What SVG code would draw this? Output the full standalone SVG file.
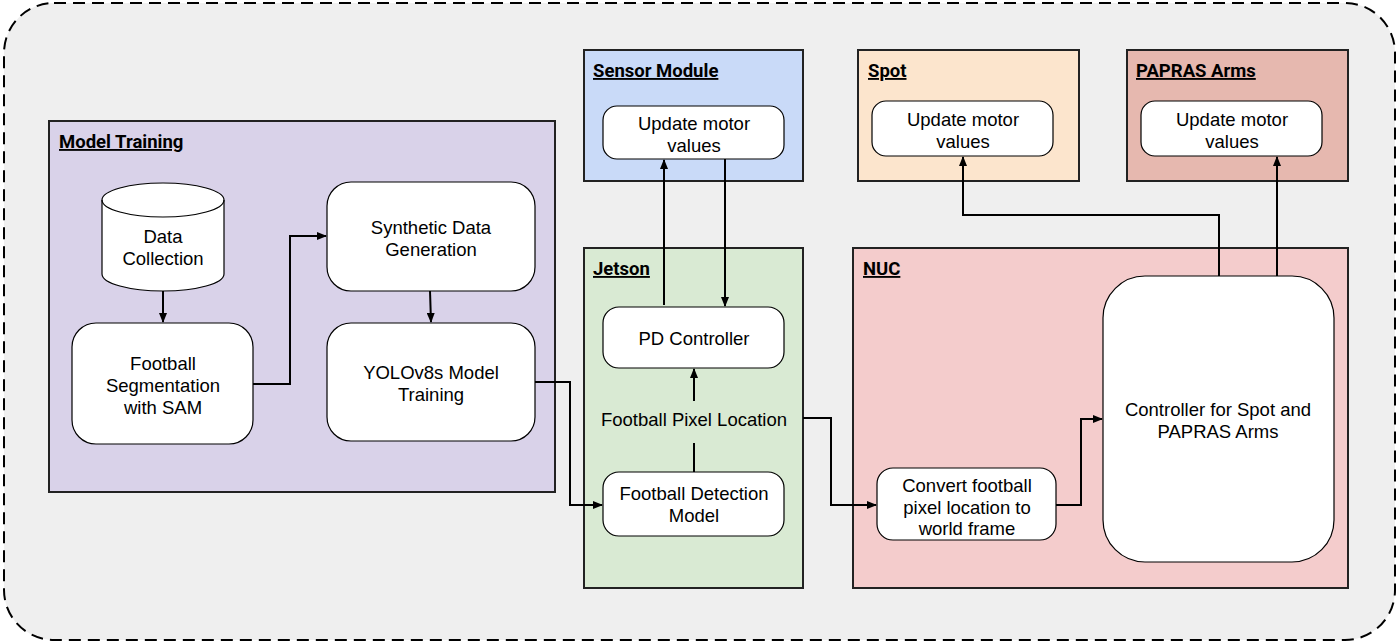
<svg xmlns="http://www.w3.org/2000/svg" width="1398" height="644" viewBox="0 0 1398 644">
<defs>
<marker id="ah" markerWidth="10" markerHeight="8" refX="9" refY="4" orient="auto" markerUnits="userSpaceOnUse">
<path d="M0,0 L10,4 L0,8 Z" fill="#000"/>
</marker>
<style>
.grp{stroke:#222;stroke-width:2}
.node{fill:#fff;stroke:#000;stroke-width:1.2}
.t{font-family:"Liberation Sans",Arial,sans-serif;font-size:18.5px;fill:#000;text-anchor:middle}
.ttl{font-family:Roboto,"Liberation Sans",sans-serif;font-size:18.5px;font-weight:bold;fill:#000;text-decoration:underline}
.c{fill:none;stroke:#000;stroke-width:2}
</style>
</defs>
<rect x="4" y="3" width="1391" height="637" rx="50" fill="#efefef" stroke="#000" stroke-width="2" stroke-dasharray="12,7"/>

<g id="model-training">
<rect class="grp" x="49" y="121" width="506" height="371" fill="#d9d2e9"/>
<text class="ttl" x="59" y="148">Model Training</text>
</g>
<g id="sensor-module">
<rect class="grp" x="584" y="50" width="219" height="131" fill="#c9daf8"/>
<text class="ttl" x="593" y="77">Sensor Module</text>
</g>
<g id="jetson">
<rect class="grp" x="584" y="248" width="219" height="340" fill="#d9ead3"/>
<text class="ttl" x="593" y="275">Jetson</text>
</g>
<g id="spot">
<rect class="grp" x="858" y="50" width="221" height="131" fill="#fce5cd"/>
<text class="ttl" x="868" y="77">Spot</text>
</g>
<g id="papras">
<rect class="grp" x="1127" y="50" width="221" height="131" fill="#e6b8af"/>
<text class="ttl" x="1136" y="77">PAPRAS Arms</text>
</g>
<g id="nuc">
<rect class="grp" x="853" y="248" width="495" height="340" fill="#f4cccc"/>
<text class="ttl" x="863" y="275">NUC</text>
</g>

<g id="data-collection">
<path class="node" d="M102,200 A61,17 0 0 1 224,200 L224,274 A61,17 0 0 1 102,274 Z"/>
<path d="M102,200 A61,17 0 0 0 224,200" fill="none" stroke="#000" stroke-width="1.2"/>
<text class="t" x="163" y="243">Data</text>
<text class="t" x="163" y="265">Collection</text>
</g>
<g id="segmentation">
<rect class="node" x="72" y="323" width="181" height="121" rx="24"/>
<text class="t" x="163" y="370">Football</text>
<text class="t" x="163" y="392">Segmentation</text>
<text class="t" x="163" y="414">with SAM</text>
</g>
<g id="synthetic">
<rect class="node" x="327" y="182" width="208" height="109" rx="24"/>
<text class="t" x="431" y="234">Synthetic Data</text>
<text class="t" x="431" y="256">Generation</text>
</g>
<g id="yolo">
<rect class="node" x="327" y="323" width="208" height="118" rx="24"/>
<text class="t" x="431" y="379">YOLOv8s Model</text>
<text class="t" x="431" y="401">Training</text>
</g>
<g id="sensor-update">
<rect class="node" x="603" y="106" width="181" height="53" rx="14"/>
<text class="t" x="694" y="130">Update motor</text>
<text class="t" x="694" y="152">values</text>
</g>
<g id="pd-controller">
<rect class="node" x="603" y="307" width="181" height="61" rx="16"/>
<text class="t" x="694" y="345">PD Controller</text>
</g>
<g id="detection">
<rect class="node" x="603" y="472" width="181" height="64" rx="16"/>
<text class="t" x="694" y="500">Football Detection</text>
<text class="t" x="694" y="522">Model</text>
</g>
<g id="spot-update">
<rect class="node" x="872" y="101" width="181" height="55" rx="14"/>
<text class="t" x="963" y="126">Update motor</text>
<text class="t" x="963" y="148">values</text>
</g>
<g id="papras-update">
<rect class="node" x="1141" y="101" width="181" height="55" rx="14"/>
<text class="t" x="1232" y="126">Update motor</text>
<text class="t" x="1232" y="148">values</text>
</g>
<g id="convert">
<rect class="node" x="877" y="468" width="179" height="72" rx="16"/>
<text class="t" x="967" y="492">Convert football</text>
<text class="t" x="967" y="514">pixel location to</text>
<text class="t" x="967" y="535">world frame</text>
</g>
<g id="controller">
<rect class="node" x="1103" y="276" width="231" height="286" rx="42"/>
<text class="t" x="1218" y="416">Controller for Spot and</text>
<text class="t" x="1218" y="438">PAPRAS Arms</text>
</g>

<g id="connectors">
<path class="c" d="M163,291 L163,322" marker-end="url(#ah)"/>
<path class="c" d="M253,384 L290,384 L290,236 L326,236" marker-end="url(#ah)"/>
<path class="c" d="M430,291 L431,322" marker-end="url(#ah)"/>
<path class="c" d="M535,382 L570,382 L570,505 L602,505" marker-end="url(#ah)"/>
<path class="c" d="M664,305 L664,160" marker-end="url(#ah)"/>
<path class="c" d="M725,159 L725,306" marker-end="url(#ah)"/>
<path class="c" d="M694,472 L694,443"/>
<path class="c" d="M694,401 L694,369" marker-end="url(#ah)"/>
<text class="t" x="694" y="426">Football Pixel Location</text>
<path class="c" d="M803,418 L831,418 L831,505 L876,505" marker-end="url(#ah)"/>
<path class="c" d="M1056,505 L1081,505 L1081,419 L1102,419" marker-end="url(#ah)"/>
<path class="c" d="M1219,276 L1219,215 L963,215 L963,157" marker-end="url(#ah)"/>
<path class="c" d="M1277,276 L1277,157" marker-end="url(#ah)"/>
</g>
</svg>
